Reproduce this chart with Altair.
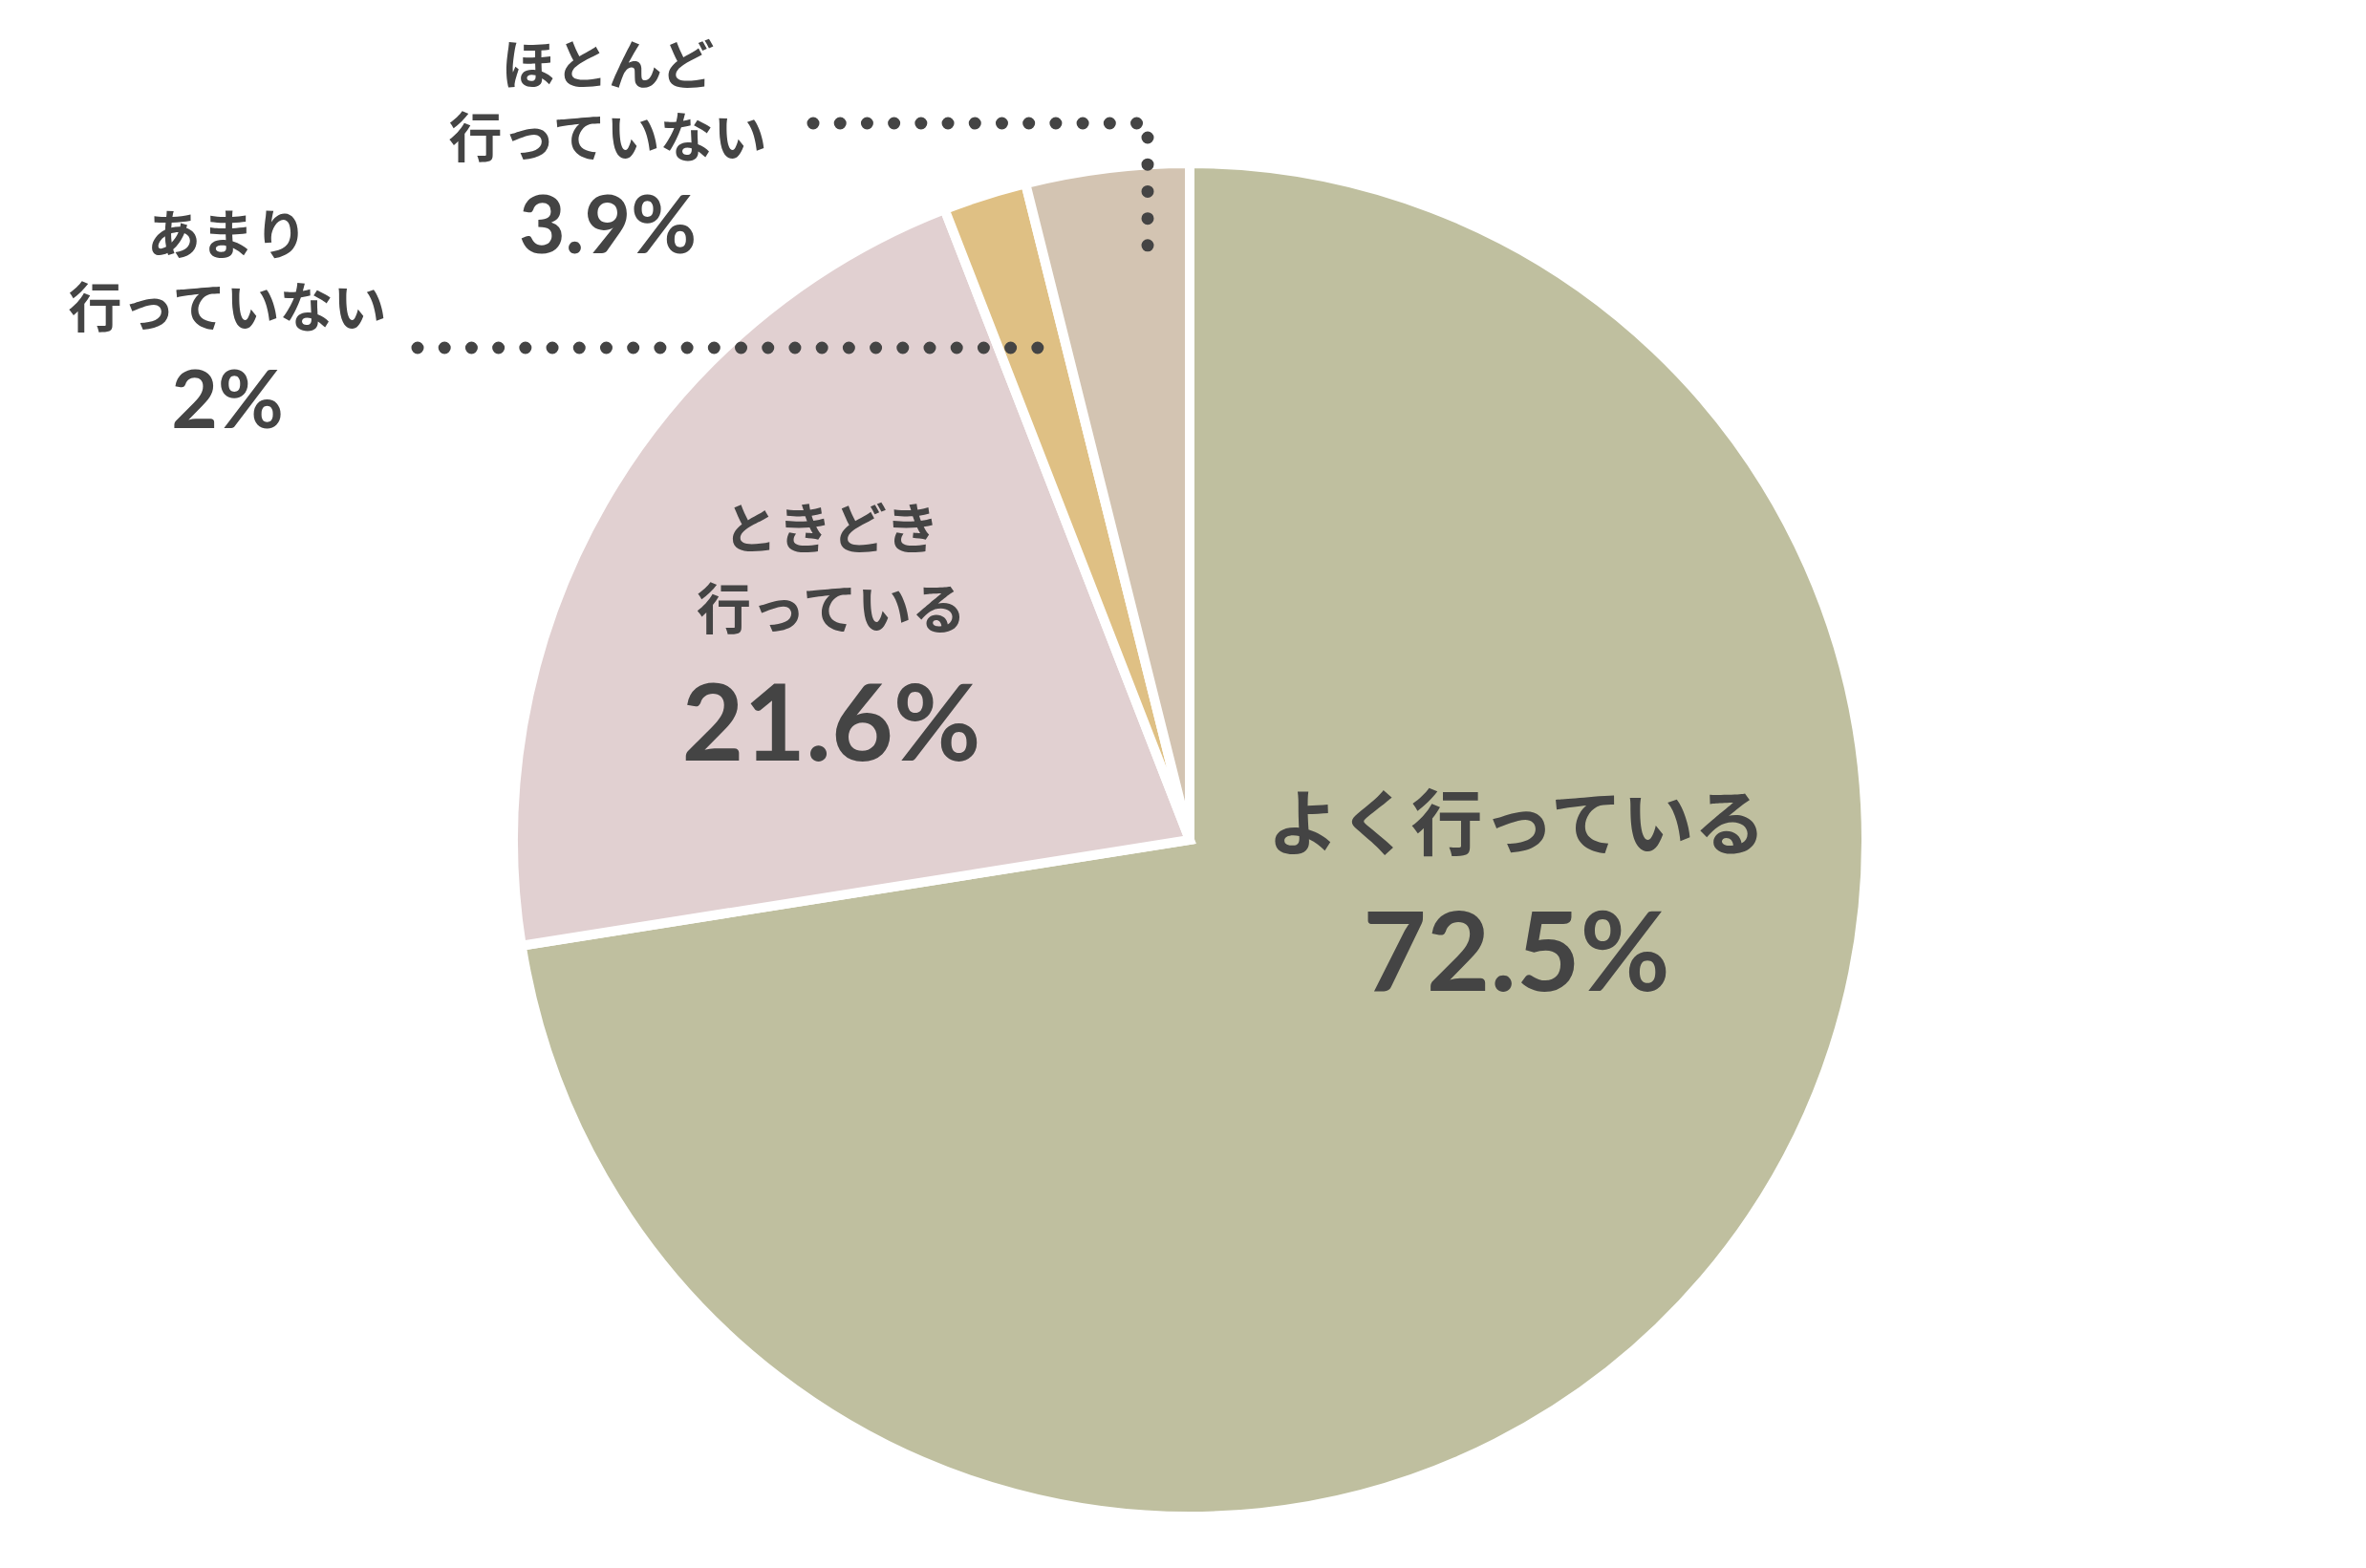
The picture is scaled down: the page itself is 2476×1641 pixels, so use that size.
import altair as alt
import pandas as pd

# ---- data ----
categories = ["よく行っている", "ときどき行っている", "あまり行っていない", "ほとんど行っていない"]
values = [72.5, 21.6, 2.0, 3.9]
pct_labels = ["72.5%", "21.6%", "2%", "3.9%"]
name_lines = [["よく行っている"], ["ときどき", "行っている"], ["あまり", "行っていない"], ["ほとんど", "行っていない"]]

# ---- styles / layout (page pixel coordinates) ----
colors = ["#BFBF9F", "#E1D0D1", "#DFC084", "#D3C4B2"]
text_color = "#444444"
W, H = 2440, 1600
pie_center = (1245, 879)
pie_radius = 708
# label anchors: (x, [y of each name line], y of percent, name size, pct size)
label_layout = [
    (1587, [866], 1002, 75, 115),
    (870, [557, 641], 762, 57, 112),
    (238, [249, 325], 423, 56, 84),
    (636, [71, 147], 240, 56, 84),
]
leader_segments = [
    [(437, 364), (1088, 364)],
    [(851, 129), (1191, 129)],
    [(1201, 144), (1201, 259)],
]

xs = alt.Scale(domain=[8, 8 + W], nice=False, zero=False)
ys = alt.Scale(domain=[8, 8 + H], nice=False, zero=False, reverse=True)

pie_df = pd.DataFrame({"category": categories, "value": values, "order": list(range(len(values)))})

pie = alt.Chart(pie_df).mark_arc(
    outerRadius=pie_radius, stroke="white", strokeWidth=10
).encode(
    theta=alt.Theta("value:Q", stack=True),
    order=alt.Order("order:Q"),
    color=alt.Color("category:N", scale=alt.Scale(domain=categories, range=colors), legend=None),
    x=alt.XDatum(pie_center[0], type="quantitative", scale=xs, axis=None),
    y=alt.YDatum(pie_center[1], type="quantitative", scale=ys, axis=None),
)

rows = []
for i, (lx, name_ys, py, nsize, psize) in enumerate(label_layout):
    for line, ly in zip(name_lines[i], name_ys):
        rows.append({"text": line, "x": lx, "y": ly, "size": nsize})
    rows.append({"text": pct_labels[i], "x": lx, "y": py, "size": psize})
text_df = pd.DataFrame(rows)

texts = alt.Chart(text_df).mark_text(
    font="Lato, Noto Sans CJK JP", fontWeight="bold", color=text_color,
    align="center", baseline="middle"
).encode(
    x=alt.X("x:Q", scale=xs, axis=None),
    y=alt.Y("y:Q", scale=ys, axis=None),
    text="text:N",
    size=alt.Size("size:Q", scale=None, legend=None),
)

lrows = []
for s, seg in enumerate(leader_segments):
    for k, (px, py) in enumerate(seg):
        lrows.append({"seg": s, "o": k, "x": px, "y": py})
line_df = pd.DataFrame(lrows)

leaders = alt.Chart(line_df).mark_line(
    color=text_color, strokeWidth=13, strokeCap="round", strokeDash=[0.01, 28.2]
).encode(
    x=alt.X("x:Q", scale=xs, axis=None),
    y=alt.Y("y:Q", scale=ys, axis=None),
    detail="seg:N",
    order="o:Q",
)

chart = alt.layer(pie, leaders, texts).properties(
    width=W, height=H, padding=0
).configure_view(stroke=None)

chart.save("out.html", embed_options={"renderer": "svg", "actions": False})
